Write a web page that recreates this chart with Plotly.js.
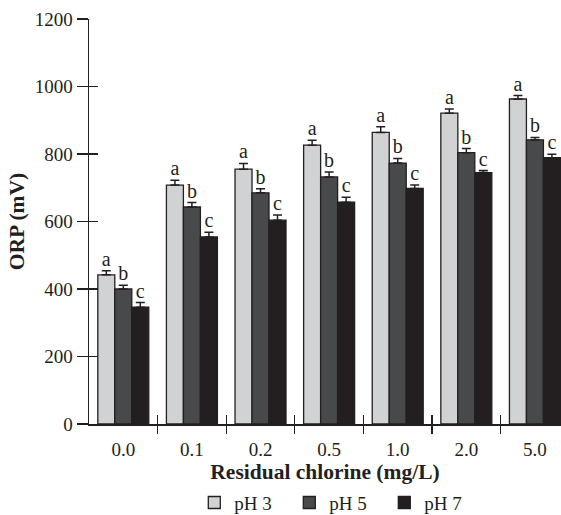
<!DOCTYPE html>
<html>
<head>
<meta charset="utf-8">
<script src="https://cdn.plot.ly/plotly-3.0.1.min.js"></script>
<style>html,body{margin:0;padding:0;background:#fff;}</style>
</head>
<body>
<div id="chart" style="width:561px;height:515px;"></div>
<script>
const categories = ["0.0", "0.1", "0.2", "0.5", "1.0", "2.0", "5.0"];
const seriesNames = ["pH 3", "pH 5", "pH 7"];
const ph3 = [442, 708, 755, 826, 864, 921, 963];
const ph5 = [400, 643, 685, 732, 773, 804, 842];
const ph7 = [346, 554, 604, 657, 698, 745, 789];
const err3 = [12, 14, 17, 15, 17, 12, 10];
const err5 = [11, 13, 12, 15, 14, 12, 7];
const err7 = [14, 14, 15, 15, 10, 6, 10];
const letters3 = ["a", "a", "a", "a", "a", "a", "a"];
const letters5 = ["b", "b", "b", "b", "b", "b", "b"];
const letters7 = ["c", "c", "c", "c", "c", "c", "c"];
const yTicks = [0, 200, 400, 600, 800, 1000, 1200];

const values = [ph3, ph5, ph7];
const errs = [err3, err5, err7];
const letters = [letters3, letters5, letters7];
const colors = ["#d1d2d4", "#48494b", "#231f20"];
const ink = "#231f20";
const serif = "Liberation Serif, Times New Roman, serif";

const traces = [];
values.forEach((vals, i) => {
  traces.push({
    type: "bar", name: seriesNames[i], x: categories, y: vals,
    marker: {color: colors[i], line: {color: ink, width: 1.3}},
    error_y: {type: "data", symmetric: false, array: errs[i],
              arrayminus: vals.map(() => 0), color: ink, thickness: 1.5, width: 4.5},
    hoverinfo: "x+y+name"
  });
});
values.forEach((vals, i) => {
  traces.push({
    type: "scatter", mode: "text", x: categories,
    y: vals.map((v, k) => v + errs[i][k]),
    text: letters[i], textposition: "top center",
    textfont: {family: serif, size: 20, color: ink},
    showlegend: false, hoverinfo: "skip", cliponaxis: false
  });
});

const xRange = [-0.5, 6.38];
const separators = categories.slice(1).map((c, k) => k + 0.5);

// empty helper traces so that the overlay tick axes are drawn
traces.push({type: "scatter", mode: "markers", x: [null], y: [null], xaxis: "x2", yaxis: "y2",
             showlegend: false, hoverinfo: "skip"});
traces.push({type: "scatter", mode: "markers", x: [null], y: [null], xaxis: "x3", yaxis: "y",
             showlegend: false, hoverinfo: "skip"});

const layout = {
  width: 561, height: 515,
  margin: {l: 89, r: 0, t: 19, b: 91},
  paper_bgcolor: "#fff", plot_bgcolor: "#fff",
  font: {family: serif, color: ink},
  barmode: "group", bargap: 0.257, bargroupgap: 0,
  scattermode: "group", scattergap: 0.257,
  showlegend: true,
  legend: {orientation: "h", xref: "paper", x: 0.525, xanchor: "center",
           yref: "container", y: 0.024, yanchor: "middle",
           font: {family: serif, size: 19, color: ink}, entrywidth: 50,
           traceorder: "normal"},
  xaxis: {type: "category", range: xRange, showline: true, linecolor: ink, linewidth: 1.5,
          ticks: "", showgrid: false, zeroline: false,
          tickfont: {family: serif, size: 19, color: ink}, ticklabelstandoff: 8,
          title: {text: "<b>Residual chlorine (mg/L)</b>", font: {family: serif, size: 21.5, color: ink}, standoff: 11}},
  xaxis2: {type: "linear", overlaying: "x", anchor: "y2", range: xRange,
           tickmode: "array", tickvals: separators, showticklabels: false,
           ticks: "outside", ticklen: 9, tickwidth: 1.3, tickcolor: ink,
           showline: false, showgrid: false, zeroline: false},
  xaxis3: {type: "linear", overlaying: "x", anchor: "y", range: xRange,
           tickmode: "array", tickvals: separators, showticklabels: false,
           ticks: "inside", ticklen: 9, tickwidth: 1.3, tickcolor: ink,
           showline: false, showgrid: false, zeroline: false},
  yaxis: {range: [0, 1200], tickmode: "array", tickvals: yTicks,
          showline: true, linecolor: ink, linewidth: 1.5,
          ticks: "outside", ticklen: 11, tickwidth: 1.5, tickcolor: ink,
          showgrid: false, zeroline: false,
          tickfont: {family: serif, size: 19, color: ink},
          title: {text: "<b>ORP (mV)</b>", font: {family: serif, size: 21.5, color: ink}, standoff: 4}},
  yaxis2: {overlaying: "y", anchor: "x2", side: "left", range: [0, 1200],
           tickmode: "array", tickvals: yTicks, showticklabels: false,
           ticks: "inside", ticklen: 9, tickwidth: 1.5, tickcolor: ink,
           showline: false, showgrid: false, zeroline: false}
};

Plotly.newPlot("chart", traces, layout, {displayModeBar: false, staticPlot: true});
</script>
</body>
</html>
